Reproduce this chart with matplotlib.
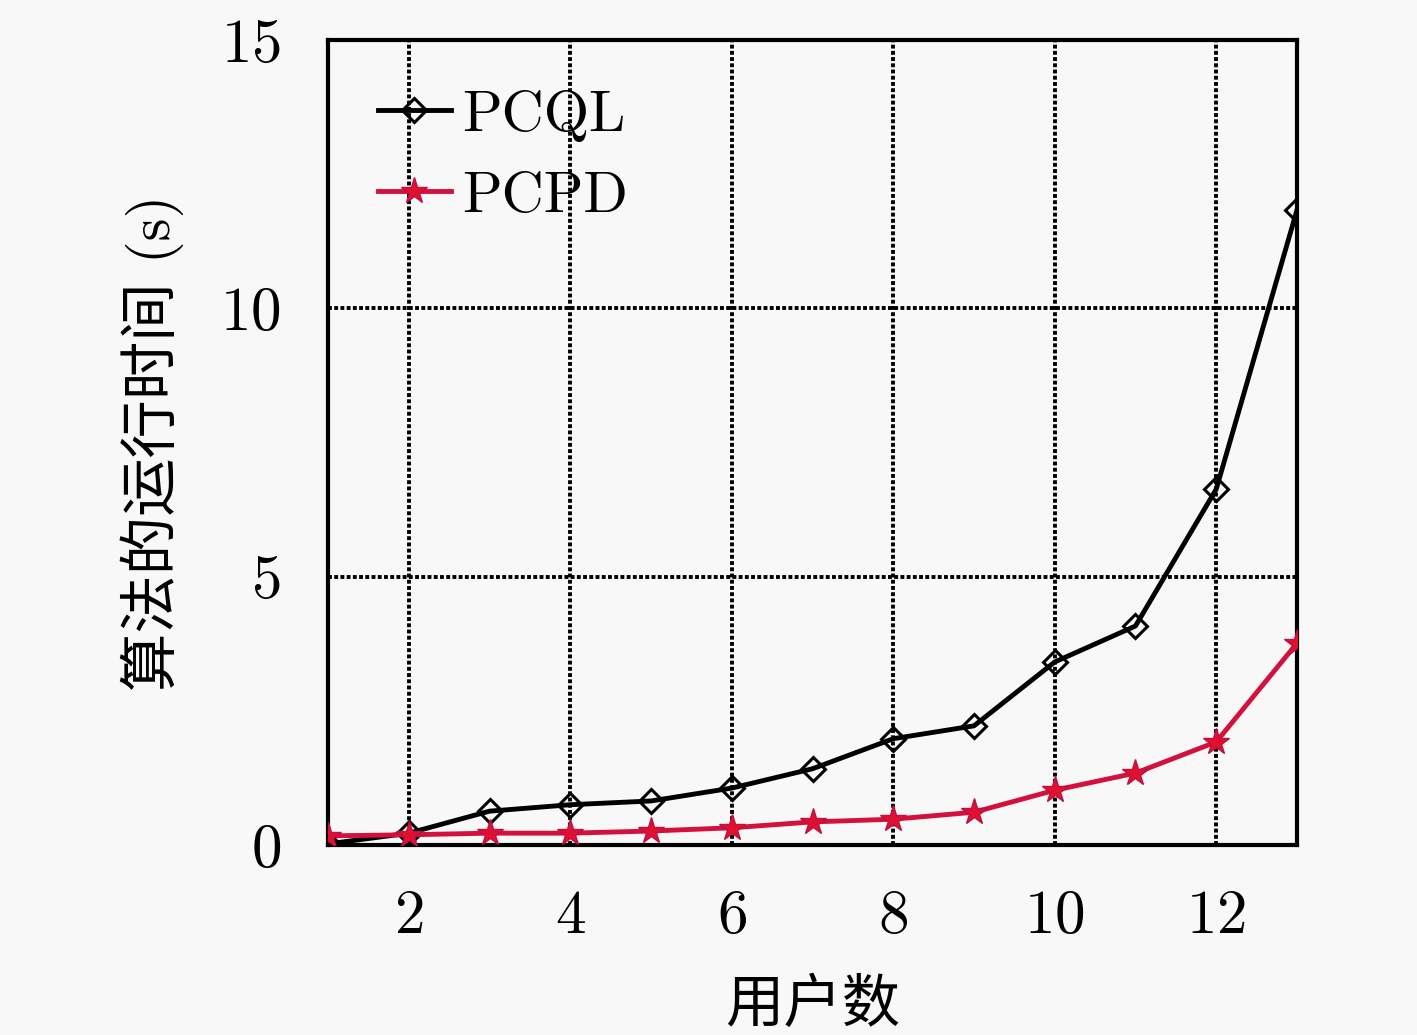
import matplotlib
matplotlib.use("Agg")
import matplotlib.pyplot as plt
import numpy as np

users = [1, 2, 3, 4, 5, 6, 7, 8, 9, 10, 11, 12, 13]
pcql_time = [0.02, 0.22, 0.63, 0.75, 0.82, 1.06, 1.42, 1.98, 2.22, 3.41, 4.08, 6.63, 11.83]
pcpd_time = [0.17, 0.19, 0.22, 0.22, 0.26, 0.32, 0.43, 0.48, 0.61, 1.02, 1.34, 1.92, 3.76]

x_ticks = [2, 4, 6, 8, 10, 12]
y_ticks = [0, 5, 10, 15]

plt.rcParams['font.family'] = ['cmr10', 'Noto Sans CJK SC']
plt.rcParams['axes.formatter.use_mathtext'] = True

fig = plt.figure(figsize=(14.17, 10.35), dpi=100, facecolor='#f8f8f8')
ax = fig.add_axes([0.2315, 0.1836, 0.6838, 0.7778])
ax.set_facecolor('#f8f8f8')

ax.plot(users, pcql_time, '-', color='black', lw=3.5, marker='D', ms=12,
        mfc='none', mec='black', mew=2.2, label='PCQL', zorder=3)
ax.plot(users, pcpd_time, '-', color='#d4103c', lw=3.5, marker='*', ms=20,
        mfc='#e01030', mec='#c01040', label='PCPD', zorder=4)

ax.set_xlim(1, 13)
ax.set_ylim(0, 15)
ax.set_xticks(x_ticks)
ax.set_yticks(y_ticks)
ax.tick_params(labelsize=44, length=0)
ax.tick_params(axis='x', pad=32)
ax.tick_params(axis='y', pad=34)
ax.grid(True, color='black', ls=(0, (1, 0.6)), lw=2.8)
for s in ax.spines.values():
    s.set_linewidth(3)

ax.set_xlabel('用户数', fontsize=42, labelpad=24)
ax.set_ylabel('算法的运行时间 (s)', fontsize=42, labelpad=26)

leg = ax.legend(loc='upper left', fontsize=42, frameon=False, handlelength=1.25,
                handletextpad=0.2, labelspacing=0.5, borderaxespad=0.45)

fig.savefig('out.png', dpi=100, facecolor=fig.get_facecolor())
